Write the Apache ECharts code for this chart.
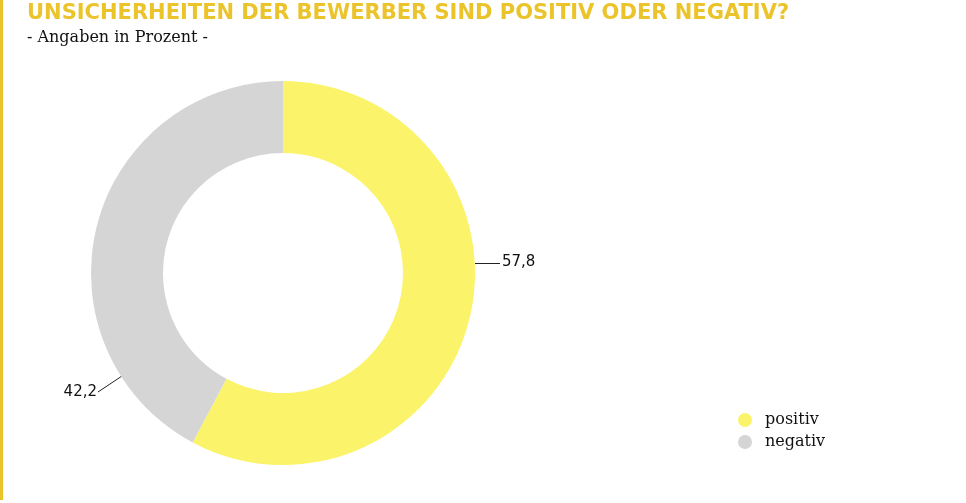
<!DOCTYPE html>
<html><head><meta charset="utf-8">
<script src="https://cdn.jsdelivr.net/npm/echarts@6/dist/echarts.min.js"></script>
<style>html,body{margin:0;padding:0;background:#fff}#c{width:966px;height:503px}</style>
</head><body><div id="c"></div>
<script>
const categories = ['positiv', 'negativ'];
const values = [57.8, 42.2];
const colors = ['#FBF46B', '#D5D5D5'];
const chart = echarts.init(document.getElementById('c'));
chart.setOption({
  animation: false,
  title: [{
    text: 'UNSICHERHEITEN DER BEWERBER SIND POSITIV ODER NEGATIV?',
    left: 27, top: 3, padding: 0,
    textStyle: {fontFamily: 'DejaVu Sans', fontWeight: 'bold', fontSize: 21, color: '#EBC42B'}
  }, {
    text: '- Angaben in Prozent -',
    left: 27, top: 30, padding: 0,
    textStyle: {fontFamily: 'DejaVu Serif', fontWeight: 'normal', fontSize: 16, color: '#111'}
  }],
  graphic: [{type: 'rect', shape: {x: 0, y: 0, width: 3, height: 500}, style: {fill: '#EBC42B'}}],
  legend: {
    orient: 'vertical', left: 733, top: 407,
    icon: 'circle', itemWidth: 14, itemHeight: 14, itemGap: 6,
    textStyle: {fontFamily: 'DejaVu Serif', fontSize: 16, color: '#111', padding: [0, 0, 0, 8]},
    data: categories
  },
  series: [{
    type: 'pie',
    center: [283, 273],
    radius: [120, 192],
    startAngle: 90,
    clockwise: true,
    data: categories.map((c, i) => ({name: c, value: values[i], itemStyle: {color: colors[i]}})),
    label: {
      show: true,
      formatter: p => String(p.value).replace('.', ','),
      fontFamily: 'DejaVu Sans', fontSize: 15, color: '#111'
    },
    labelLine: {show: true, lineStyle: {color: '#222', width: 1}},
    labelLayout: function (params) {
      if (params.dataIndex === 0) {
        return {x: 502, y: 262, align: 'left', verticalAlign: 'middle',
          labelLinePoints: [[475, 263.5], [488, 263.5], [500, 263.5]]};
      }
      return {x: 97, y: 392, align: 'right', verticalAlign: 'middle',
        labelLinePoints: [[122, 376], [110, 384], [98, 392]]};
    },
    emphasis: {disabled: true}
  }]
});
</script></body></html>
